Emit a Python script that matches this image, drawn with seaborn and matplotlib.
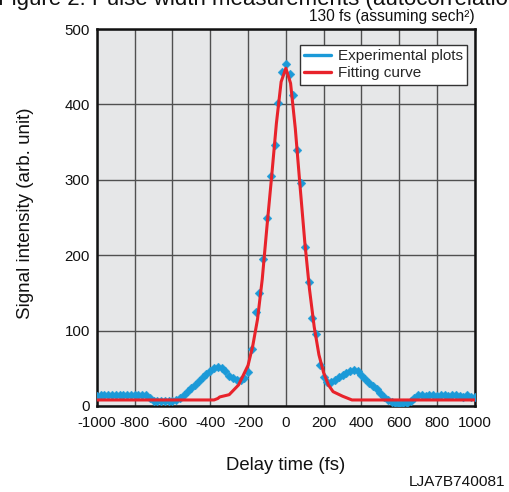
import numpy as np
import pandas as pd
import seaborn as sns
import matplotlib
matplotlib.use("Agg")
import matplotlib.pyplot as plt
from matplotlib.lines import Line2D

# ---- data ----
exp_delay = list(range(-1000, 1001, 20))
exp_signal = [
    13, 15, 15, 15, 15, 15, 15, 15, 15, 15,          # -1000 .. -820
    15, 15, 15, 14, 10, 7, 6, 7, 6, 6,               # -800 .. -620
    7, 8, 10, 15, 20, 24, 28, 33, 38, 42,            # -600 .. -420
    46, 50, 52, 50, 46, 40, 37, 35, 34, 37,          # -400 .. -220
    45, 75, 125, 150, 195, 250, 305, 346, 402, 443,  # -200 .. -20
    453, 440, 412, 340, 296, 211, 165, 117, 95, 55,  # 0 .. 180
    38, 32, 32, 35, 38, 41, 44, 47, 48, 46,          # 200 .. 380
    41, 36, 31, 26, 22, 17, 12, 8, 5, 4,             # 400 .. 580
    3, 4, 4, 6, 11, 15, 14, 13, 15, 14,              # 600 .. 780
    13, 15, 14, 13, 14, 15, 13, 12, 14, 12,          # 800 .. 980
    12,                                              # 1000
]

fit_delay = [-1000, -380, -360, -350, -300, -250, -200, -175, -150, -125, -100,
             -75, -50, -25, 0, 25, 50, 75, 100, 125, 150, 175, 200, 225, 250,
             300, 320, 350, 1000]
fit_signal = [8, 8, 10, 12, 15, 28, 54, 80, 115, 168, 238,
              305, 375, 430, 448, 428, 368, 292, 218, 155, 105, 68, 44, 28, 19,
              13, 11, 8, 8]

x_ticks = [-1000, -800, -600, -400, -200, 0, 200, 400, 600, 800, 1000]
y_ticks = [0, 100, 200, 300, 400, 500]

exp_df = pd.DataFrame({"delay": exp_delay, "signal": exp_signal})
fit_df = pd.DataFrame({"delay": fit_delay, "signal": fit_signal})

BLUE = "#1b9ad8"
RED = "#e8232b"
INK = "#111111"

sns.set_theme(style="white")
plt.rcParams["font.family"] = ["Liberation Sans", "DejaVu Sans"]

fig = plt.figure(figsize=(5.1, 4.92), dpi=100)
ax = fig.add_axes([0.190, 0.1748, 0.741, 0.7662])
ax.set_facecolor("#e6e7e8")

sns.scatterplot(data=exp_df, x="delay", y="signal", ax=ax, marker="D",
                s=20, color=BLUE, edgecolor=BLUE, linewidth=0.3, zorder=3,
                legend=False)
sns.lineplot(data=fit_df, x="delay", y="signal", ax=ax, color=RED,
             linewidth=2.2, sort=False, estimator=None, zorder=4)

ax.set_xlim(-1000, 1000)
ax.set_ylim(0, 500)
ax.set_xticks(x_ticks)
ax.set_xticklabels([str(t) for t in x_ticks])
ax.set_yticks(y_ticks)
ax.set_yticklabels([str(t) for t in y_ticks])
ax.tick_params(axis="both", direction="out", length=2.5, width=1,
               color=INK, labelsize=10.8, labelcolor=INK)
ax.tick_params(axis="x", pad=5)
ax.tick_params(axis="y", pad=2.5)
ax.grid(True, color="#505050", linewidth=1.0)
ax.set_axisbelow(True)
for sp in ax.spines.values():
    sp.set_color(INK)
    sp.set_linewidth(1.8)
    sp.set_visible(True)

ax.set_xlabel("Delay time (fs)", fontsize=13.3, color=INK)
ax.xaxis.set_label_coords(0.5, -0.135)
ax.set_ylabel("Signal intensity (arb. unit)", fontsize=13.5, color=INK)
ax.yaxis.set_label_coords(-0.166, 0.51)

handles = [Line2D([0], [0], color=BLUE, lw=2.4),
           Line2D([0], [0], color=RED, lw=2.4)]
leg = ax.legend(handles, ["Experimental plots", "Fitting curve"],
                loc="upper right", bbox_to_anchor=(0.979, 0.958),
                borderaxespad=0, fontsize=11.0, frameon=True, fancybox=False,
                framealpha=1, edgecolor="#333333", handlelength=1.75,
                handletextpad=0.45, borderpad=0.28, labelspacing=0.22)
leg.get_frame().set_linewidth(1.0)

fig.text(0.931, 1 - 16 / 492, "130 fs (assuming sech\u00b2)", ha="right",
         va="center", fontsize=11.2, color=INK)
fig.text(0.99, 1 - 482 / 492, "LJA7B740081", ha="right", va="center",
         fontsize=11.1, color=INK)
fig.text(-0.003, 1 - 5 / 492, "Figure 2: Pulse width measurements (autocorrelation)",
         ha="left", va="baseline", fontsize=16, color=INK)

fig.savefig("out.png", dpi=100)
